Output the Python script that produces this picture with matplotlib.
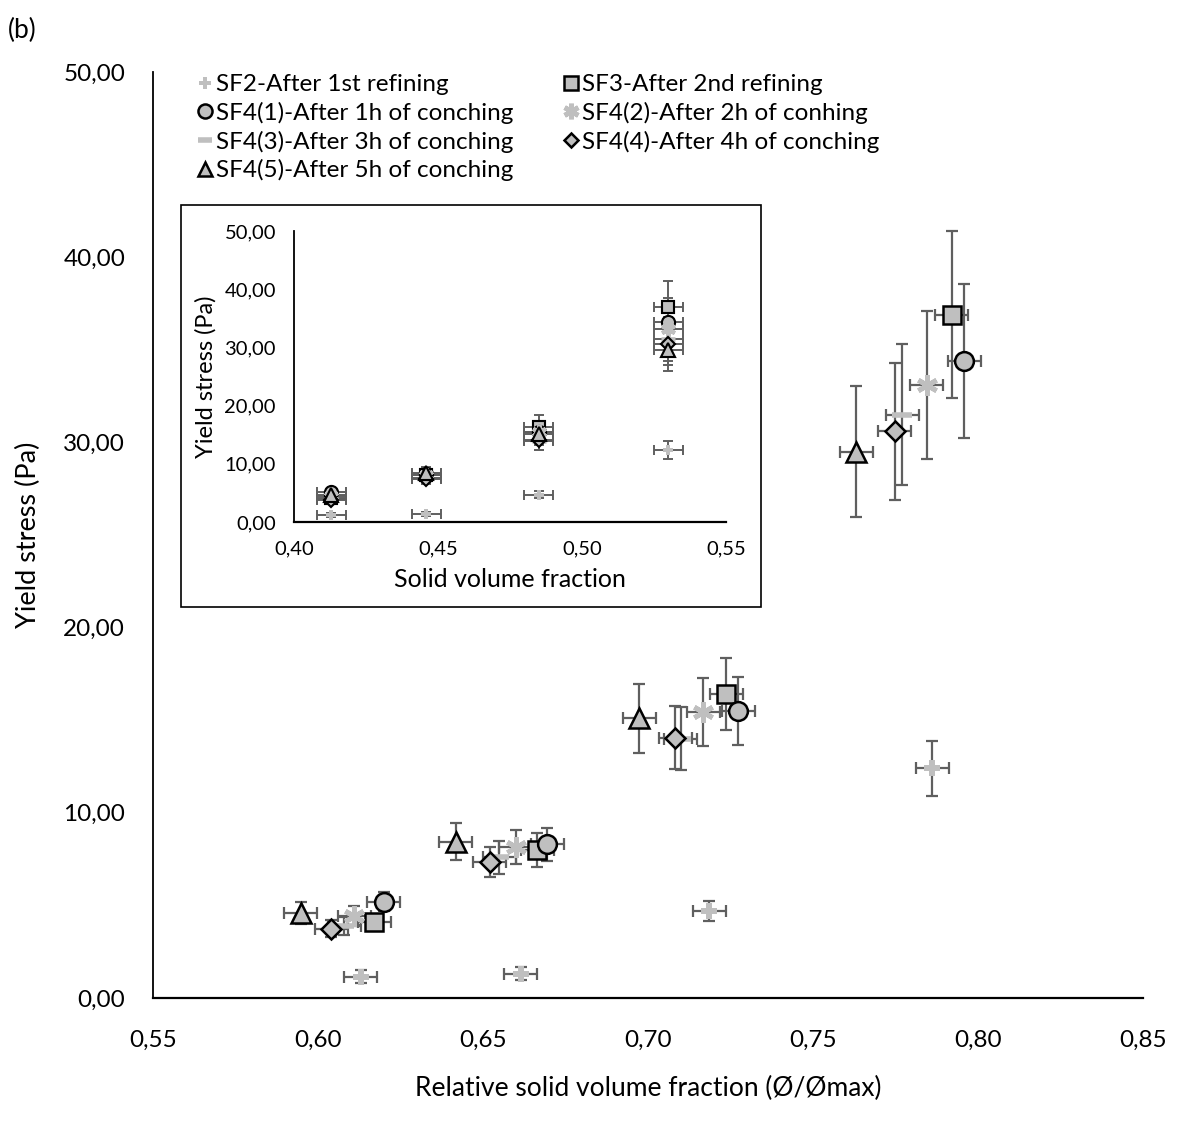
import numpy as np
import matplotlib
matplotlib.use('Agg')
import matplotlib.pyplot as plt
from matplotlib.lines import Line2D
from matplotlib.patches import Rectangle
from matplotlib.ticker import FuncFormatter

plt.rcParams['font.family'] = ['Lato', 'DejaVu Sans']

# ---------------- data ----------------
labels = ['SF2-After 1st refining', 'SF3-After 2nd refining',
          'SF4(1)-After 1h of conching', 'SF4(2)-After 2h of conhing',
          'SF4(3)-After 3h of conching', 'SF4(4)-After 4h of conching',
          'SF4(5)-After 5h of conching']

# relative solid volume fraction (main plot)
x_sf2 = [0.613, 0.6615, 0.7185, 0.7862]
x_sf3 = [0.617, 0.6664, 0.7237, 0.7921]
x_sf41 = [0.620, 0.6694, 0.7274, 0.7959]
x_sf42 = [0.611, 0.660, 0.7168, 0.7845]
x_sf43 = [0.608, 0.655, 0.7099, 0.777]
x_sf44 = [0.604, 0.652, 0.7082, 0.7747]
x_sf45 = [0.5948, 0.6418, 0.6974, 0.7631]

# yield stress (Pa)
y_sf2 = [1.15, 1.3, 4.7, 12.4]
y_sf3 = [4.1, 8.0, 16.4, 36.9]
y_sf41 = [5.2, 8.3, 15.5, 34.4]
y_sf42 = [4.45, 8.15, 15.45, 33.1]
y_sf43 = [3.9, 7.6, 14.0, 31.5]
y_sf44 = [3.75, 7.35, 14.05, 30.6]
y_sf45 = [4.6, 8.45, 15.1, 29.5]

# y error
e_sf2 = [0.35, 0.35, 0.55, 1.5]
e_sf3 = [0.4, 0.9, 1.95, 4.5]
e_sf41 = [0.5, 0.9, 1.85, 4.15]
e_sf42 = [0.5, 0.9, 1.85, 4.0]
e_sf43 = [0.5, 0.9, 1.7, 3.8]
e_sf44 = [0.45, 0.8, 1.7, 3.7]
e_sf45 = [0.6, 1.0, 1.85, 3.55]
x_err = 0.005

# solid volume fraction (inset)
phi = [0.413, 0.446, 0.485, 0.530]

xs = [x_sf2, x_sf3, x_sf41, x_sf42, x_sf43, x_sf44, x_sf45]
ys = [y_sf2, y_sf3, y_sf41, y_sf42, y_sf43, y_sf44, y_sf45]
es = [e_sf2, e_sf3, e_sf41, e_sf42, e_sf43, e_sf44, e_sf45]

fill = '#BFBFBF'
err_col = '#5F5F5F'
asterisk = (6, 2, 0)

# marker styles per series
styles = [
    dict(marker='P', mfc=fill, mec=fill, ms=11, mew=0),
    dict(marker='s', mfc=fill, mec='black', ms=13, mew=1.8),
    dict(marker='o', mfc=fill, mec='black', ms=13.5, mew=1.8),
    dict(marker=asterisk, mfc=fill, mec=fill, ms=15, mew=3.5),
    dict(marker='_', mfc=fill, mec=fill, ms=14, mew=4),
    dict(marker='D', mfc=fill, mec='black', ms=10, mew=1.8),
    dict(marker='^', mfc=fill, mec='black', ms=14, mew=1.8),
]

comma = FuncFormatter(lambda v, p: ('%.2f' % v).replace('.', ','))

W, H = 1177, 1129
fig = plt.figure(figsize=(W / 100, H / 100), dpi=100)

def fbox(x0, y0, x1, y1):
    # pixel box -> figure fraction [left, bottom, width, height]
    return [x0 / W, 1 - y1 / H, (x1 - x0) / W, (y1 - y0) / H]

############################### MAIN PLOT ###############################
ax = fig.add_axes(fbox(153, 72, 1143, 998))
for x, y, e, st in zip(xs, ys, es, styles):
    ax.errorbar(x, y, yerr=e, xerr=x_err, fmt='none', ecolor=err_col,
                elinewidth=1.6, capsize=4.5, capthick=1.6, zorder=2)
    ax.plot(x, y, linestyle='none', zorder=3, **st)

ax.set_xlim(0.55, 0.85)
ax.set_ylim(0, 50)
ax.set_xticks(np.arange(0.55, 0.851, 0.05))
ax.set_yticks(np.arange(0, 50.1, 10))
ax.xaxis.set_major_formatter(comma)
ax.yaxis.set_major_formatter(comma)
ax.tick_params(length=0, labelsize=17.5)
ax.tick_params(axis='x', pad=23)
ax.tick_params(axis='y', pad=20)
for s in ['top', 'right']:
    ax.spines[s].set_visible(False)
ax.spines['left'].set_linewidth(1.3)
ax.spines['bottom'].set_linewidth(1.6)
ax.set_xlabel('Relative solid volume fraction (Ø/Ømax)', fontsize=19, labelpad=18)
ax.set_ylabel('Yield stress (Pa)', fontsize=19.5, labelpad=16)

# legend, ordered so that the two columns read row by row
handles = [Line2D([], [], linestyle='none', **dict(st, ms=st['ms'] * 0.75)) for st in styles]
order = [0, 2, 4, 6, 1, 3, 5]
ax.legend([handles[i] for i in order], [labels[i] for i in order], ncol=2,
          loc='upper left', bbox_to_anchor=(0.035, 1.008), frameon=False,
          fontsize=17.5, handlelength=0.6, handletextpad=0.15,
          columnspacing=2.1, labelspacing=0.27, borderaxespad=0)

fig.text(8 / W, 1 - 30 / H, '(b)', fontsize=19, va='center')

############################### INSET ###############################
fig.patches.append(Rectangle((181 / W, 1 - 607 / H), 580 / W, 402 / H,
                             transform=fig.transFigure, facecolor='white',
                             edgecolor='black', linewidth=1.2, zorder=4))
axi = fig.add_axes(fbox(294, 231, 726, 522))
axi.set_zorder(5)
axi.patch.set_alpha(0)
ins_styles = [dict(st, ms=st['ms'] * 0.7, mew=st['mew'] * 0.85) for st in styles]
for y, e, st in zip(ys, es, ins_styles):
    axi.errorbar(phi, y, yerr=e, xerr=x_err, fmt='none', ecolor=err_col,
                 elinewidth=1.4, capsize=3.5, capthick=1.4, zorder=2)
    axi.plot(phi, y, linestyle='none', zorder=3, **st)
axi.set_xlim(0.40, 0.55)
axi.set_ylim(0, 50)
axi.set_xticks(np.arange(0.40, 0.551, 0.05))
axi.set_yticks(np.arange(0, 50.1, 10))
axi.xaxis.set_major_formatter(comma)
axi.yaxis.set_major_formatter(comma)
axi.tick_params(length=0, labelsize=14.5)
axi.tick_params(axis='x', pad=13)
axi.tick_params(axis='y', pad=13)
for s in ['top', 'right']:
    axi.spines[s].set_visible(False)
axi.spines['left'].set_linewidth(1.3)
axi.spines['bottom'].set_linewidth(1.6)
axi.set_xlabel('Solid volume fraction', fontsize=18, labelpad=8)
axi.set_ylabel('Yield stress (Pa)', fontsize=17, labelpad=6)

fig.savefig('out.png', dpi=100)
